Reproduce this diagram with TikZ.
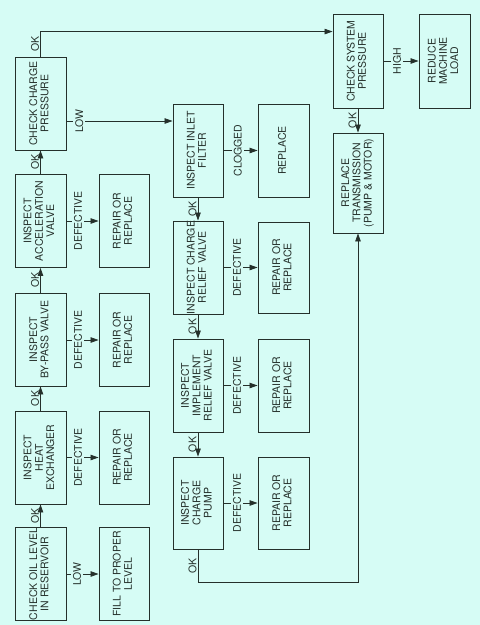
\documentclass[tikz,border=0pt]{standalone}
\usepackage{fontspec}
\setmainfont{TeX Gyre Heros}
\usepackage{graphicx}
\usetikzlibrary{arrows.meta,calc}
\definecolor{bg}{HTML}{D6FCF5}
\definecolor{ink}{HTML}{25302B}
\newcommand{\rt}[1]{\rotatebox{90}{\def\arraystretch{0.97}\begin{tabular}{@{}c@{}}#1\end{tabular}}}
\tikzset{
  box/.style={draw=ink, line width=0.9pt, minimum width=51pt, minimum height=93pt, inner sep=0pt, text=ink},
  conn/.style={draw=ink, line width=0.8pt, -{Triangle[length=8pt,width=5.5pt]}},
  lbl/.style={fill=bg, inner xsep=2pt, inner ysep=0pt, text=ink},
  oklbl/.style={left=1pt, inner sep=0pt, text=ink},
}
\begin{document}
\begin{tikzpicture}[x=1pt,y=-1pt, font=\fontsize{10.5}{11.6}\selectfont]
\fill[bg] (0,0) rectangle (480,625);
\useasboundingbox (0,0) rectangle (480,625);
% column 1
\node[box] (ccp) at (40.5,103.5) {\rt{CHECK CHARGE\\PRESSURE}};
\node[box] (acc) at (40.5,221) {\rt{INSPECT\\ACCELERATION\\VALVE}};
\node[box] (byp) at (40.5,339.5) {\rt{INSPECT\\BY-PASS VALVE}};
\node[box] (hex) at (40.5,457.5) {\rt{INSPECT\\HEAT\\EXCHANGER}};
\node[box] (oil) at (40.5,574) {\rt{CHECK OIL LEVEL\\IN RESERVOIR}};
% column 2
\node[box, minimum width=50pt] (r1) at (124,221) {\rt{REPAIR OR\\REPLACE}};
\node[box, minimum width=50pt] (r2) at (124,340) {\rt{REPAIR OR\\REPLACE}};
\node[box, minimum width=50pt] (r3) at (124,457.5) {\rt{REPAIR OR\\REPLACE}};
\node[box, minimum width=50pt] (fill) at (124,574) {\rt{FILL TO PROPER\\LEVEL}};
% column 3
\node[box, minimum width=50pt] (flt) at (198,150.5) {\rt{INSPECT INLET\\FILTER}};
\node[box, minimum width=50pt, minimum height=91pt] (crv) at (198,267.5) {\rt{INSPECT CHARGE\\RELIEF VALVE}};
\node[box, minimum width=50pt] (irv) at (198,385.5) {\rt{INSPECT\\IMPLEMENT\\RELIEF VALVE}};
\node[box, minimum width=50pt, minimum height=92pt] (cpp) at (198,503) {\rt{INSPECT\\CHARGE\\PUMP}};
% column 4
\node[box] (rep) at (283.5,150.5) {\rt{REPLACE}};
\node[box, minimum height=91pt] (r4) at (283.5,267.5) {\rt{REPAIR OR\\REPLACE}};
\node[box] (r5) at (283.5,385.5) {\rt{REPAIR OR\\REPLACE}};
\node[box, minimum height=92pt] (r6) at (283.5,503) {\rt{REPAIR OR\\REPLACE}};
% column 5/6
\node[box, minimum width=50pt, minimum height=94pt] (csp) at (358,61) {\rt{CHECK SYSTEM\\PRESSURE}};
\node[box, minimum width=50pt, minimum height=100pt] (rtr) at (358,183) {\rt{REPLACE\\TRANSMISSION\\(PUMP \& MOTOR)}};
\node[box, minimum height=94pt] (rml) at (444.5,61) {\rt{REDUCE\\MACHINE\\LOAD}};
% vertical connectors column 1
\draw[conn] (acc.north) -- node[midway,oklbl]{\rotatebox{90}{OK}} (ccp.south);
\draw[conn] (byp.north) -- node[midway,oklbl]{\rotatebox{90}{OK}} (acc.south);
\draw[conn] (hex.north) -- node[midway,oklbl]{\rotatebox{90}{OK}} (byp.south);
\draw[conn] (oil.north) -- node[midway,oklbl]{\rotatebox{90}{OK}} (hex.south);
% CCP OK to CSP
\draw[conn] (ccp.north) -- node[midway,oklbl]{\rotatebox{90}{OK}} ++(0,-25) coordinate (c0) -- (c0 -| csp.west);
% CCP LOW to filter
\coordinate (lowy) at (0,121);
\draw[conn] (ccp.east |- lowy) -- node[pos=0.12,lbl]{\rotatebox{90}{LOW}} (flt.west |- lowy);
% horizontal connectors col1->col2
\draw[conn] (acc.east) -- node[pos=0.36,lbl]{\rotatebox{90}{DEFECTIVE}} (r1.west);
\draw[conn] (byp.east |- r2.west) -- node[pos=0.36,lbl]{\rotatebox{90}{DEFECTIVE}} (r2.west);
\draw[conn] (hex.east) -- node[pos=0.36,lbl]{\rotatebox{90}{DEFECTIVE}} (r3.west);
\draw[conn] (oil.east) -- node[pos=0.33,lbl]{\rotatebox{90}{LOW}} (fill.west);
% column 3 verticals
\draw[conn] (flt.south) -- node[midway,oklbl]{\rotatebox{90}{OK}} (crv.north);
\draw[conn] (crv.south) -- node[midway,oklbl]{\rotatebox{90}{OK}} (irv.north);
\draw[conn] (irv.south) -- node[midway,oklbl]{\rotatebox{90}{OK}} (cpp.north);
% col3 -> col4
\draw[conn] (flt.east) -- node[pos=0.42,lbl]{\rotatebox{90}{CLOGGED}} (rep.west);
\draw[conn] (crv.east) -- node[pos=0.4,lbl]{\rotatebox{90}{DEFECTIVE}} (r4.west);
\draw[conn] (irv.east) -- node[pos=0.4,lbl]{\rotatebox{90}{DEFECTIVE}} (r5.west);
\draw[conn] (cpp.east) -- node[pos=0.4,lbl]{\rotatebox{90}{DEFECTIVE}} (r6.west);
% pump OK to replace transmission
\draw[conn] (cpp.south) -- node[midway,oklbl]{\rotatebox{90}{OK}} ++(0,33) coordinate (c1) -| (rtr.south);
% CSP
\draw[conn] (csp.south) -- node[midway,oklbl]{\rotatebox{90}{OK}} (rtr.north);
\draw[conn] (csp.east) -- node[pos=0.39,lbl]{\rotatebox{90}{HIGH}} (rml.west);
\end{tikzpicture}
\end{document}
